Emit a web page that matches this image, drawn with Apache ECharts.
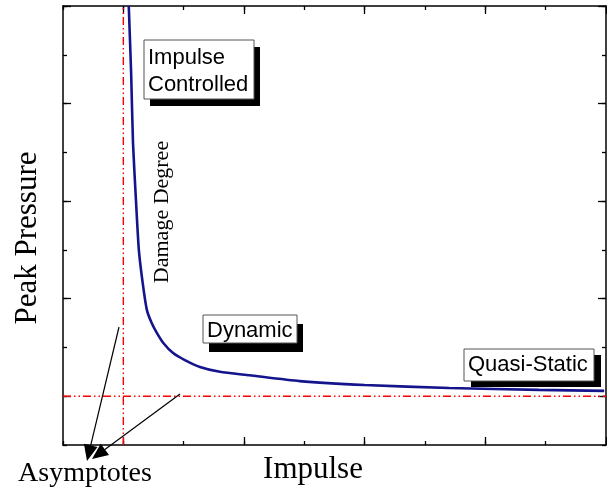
<!DOCTYPE html>
<html><head><meta charset="utf-8">
<script src="https://cdn.jsdelivr.net/npm/echarts@6/dist/echarts.min.js"></script>
<style>html,body{margin:0;padding:0;background:#fff}#c{width:607px;height:494px}</style>
</head><body><div id="c"></div>
<script>
// ---- data ----
const impulse  = [1.09, 1.13, 1.16, 1.21, 1.257, 1.32, 1.39, 1.47, 1.555, 1.67, 1.82, 2.02, 2.27, 2.6, 3.09, 3.92, 5.0, 6.4, 7.89, 8.97];
const pressure = [9.0, 7.6, 6.2, 5.0, 4.0, 3.33, 2.77, 2.50, 2.30, 2.08, 1.89, 1.74, 1.60, 1.50, 1.43, 1.31, 1.23, 1.17, 1.13, 1.11];
const asymptoteImpulse = 1;
const asymptotePressure = 1;
const axisMin = 0, axisMax = 9;
const allTicks = [0,1,2,3,4,5,6,7,8,9];
const majorTicks = [1,3,5,7,9];
const xName = 'Impulse';
const yName = 'Peak Pressure';
const labels = ['Impulse\nControlled', 'Dynamic', 'Quasi-Static'];
const curveLabel = 'Damage Degree';
const asymLabel = 'Asymptotes';

const chart = echarts.init(document.getElementById('c'), null, {renderer:'canvas'});
const gridRect = {left:63, top:6, right:1, bottom:49};

function mkAxis(gridIndex, position, ticks, len, showLine){
  return {
    type:'value', gridIndex, position, min:axisMin, max:axisMax,
    axisLine:{show:showLine, onZero:false, lineStyle:{color:'#000', width:1.5}},
    axisTick:{show:true, inside:true, length:len, customValues:ticks, lineStyle:{color:'#000', width:1.3}},
    axisLabel:{show:false}, splitLine:{show:false}
  };
}
const xAxes = [
  mkAxis(0,'bottom',allTicks,4,true), mkAxis(0,'top',allTicks,4,true),
  mkAxis(1,'bottom',majorTicks,8,false), mkAxis(1,'top',majorTicks,8,false)
];
const yAxes = [
  mkAxis(0,'left',allTicks,4,true), mkAxis(0,'right',allTicks,4,true),
  mkAxis(1,'left',majorTicks,8,false), mkAxis(1,'right',majorTicks,8,false)
];

function box(x, y, w, h, sx, sy, text, lh){
  return {type:'group', children:[
    {type:'rect', shape:{x:x+sx, y:y+sy, width:w, height:h}, style:{fill:'#000'}, z:10},
    {type:'rect', shape:{x:x, y:y, width:w, height:h}, style:{fill:'#fff', stroke:'#555', lineWidth:1}, z:11},
    {type:'text', x:x+4, y:y+4, z:12, style:{text:text, font:'22px "Liberation Sans", Arial, sans-serif', fill:'#000', lineHeight:lh, textVerticalAlign:'top'}}
  ]};
}
function arrow(x1,y1,x2,y2){
  const dx=x2-x1, dy=y2-y1, L=Math.hypot(dx,dy), ux=dx/L, uy=dy/L;
  const hl=16, hw=7;
  const bx=x2-ux*hl, by=y2-uy*hl;
  return [
    {type:'line', shape:{x1:x1,y1:y1,x2:bx,y2:by}, style:{stroke:'#000', lineWidth:1.2}, z:20},
    {type:'polygon', shape:{points:[[x2,y2],[bx-uy*hw,by+ux*hw],[bx+uy*hw,by-ux*hw]]}, style:{fill:'#000'}, z:20}
  ];
}

const dashDot = [8,3,1.5,3,1.5,3];
chart.setOption({
  animation:false,
  backgroundColor:'#fff',
  grid:[Object.assign({}, gridRect), Object.assign({}, gridRect)],
  xAxis:xAxes, yAxis:yAxes,
  series:[
    {type:'line', xAxisIndex:0, yAxisIndex:0, data:[[asymptoteImpulse,axisMin],[asymptoteImpulse,axisMax]],
     symbol:'none', lineStyle:{color:'#ff0000', width:1.4, type:dashDot}, z:2},
    {type:'line', xAxisIndex:0, yAxisIndex:0, data:[[axisMin,asymptotePressure],[axisMax,asymptotePressure]],
     symbol:'none', lineStyle:{color:'#ff0000', width:1.4, type:dashDot}, z:2},
    {type:'line', xAxisIndex:0, yAxisIndex:0, data:impulse.map((v,i)=>[v,pressure[i]]),
     smooth:0.2, symbol:'none', clip:true, lineStyle:{color:'#14148c', width:2.6}, z:3}
  ],
  graphic:[
    box(144,40,110,59,6,7,labels[0],27),
    box(203,315,94,28,6,9,labels[1],24),
    box(464,349,130,32,7,6,labels[2],24),
    {type:'text', x:162, y:212, rotation:Math.PI/2, z:12,
     style:{text:curveLabel, font:'22px "Liberation Serif", "Times New Roman", serif', fill:'#000', align:'center', verticalAlign:'middle'}},
    {type:'text', x:28, y:238, rotation:Math.PI/2, z:12,
     style:{text:yName, font:'31px "Liberation Serif", "Times New Roman", serif', fill:'#000', align:'center', verticalAlign:'middle'}},
    {type:'text', x:313, y:470, z:12,
     style:{text:xName, font:'31px "Liberation Serif", "Times New Roman", serif', fill:'#000', align:'center', verticalAlign:'middle'}},
    {type:'text', x:85, y:474, z:12,
     style:{text:asymLabel, font:'28px "Liberation Serif", "Times New Roman", serif', fill:'#000', align:'center', verticalAlign:'middle'}},
    ...arrow(119,327,87,461),
    ...arrow(180,394,92,459)
  ]
});
</script></body></html>
